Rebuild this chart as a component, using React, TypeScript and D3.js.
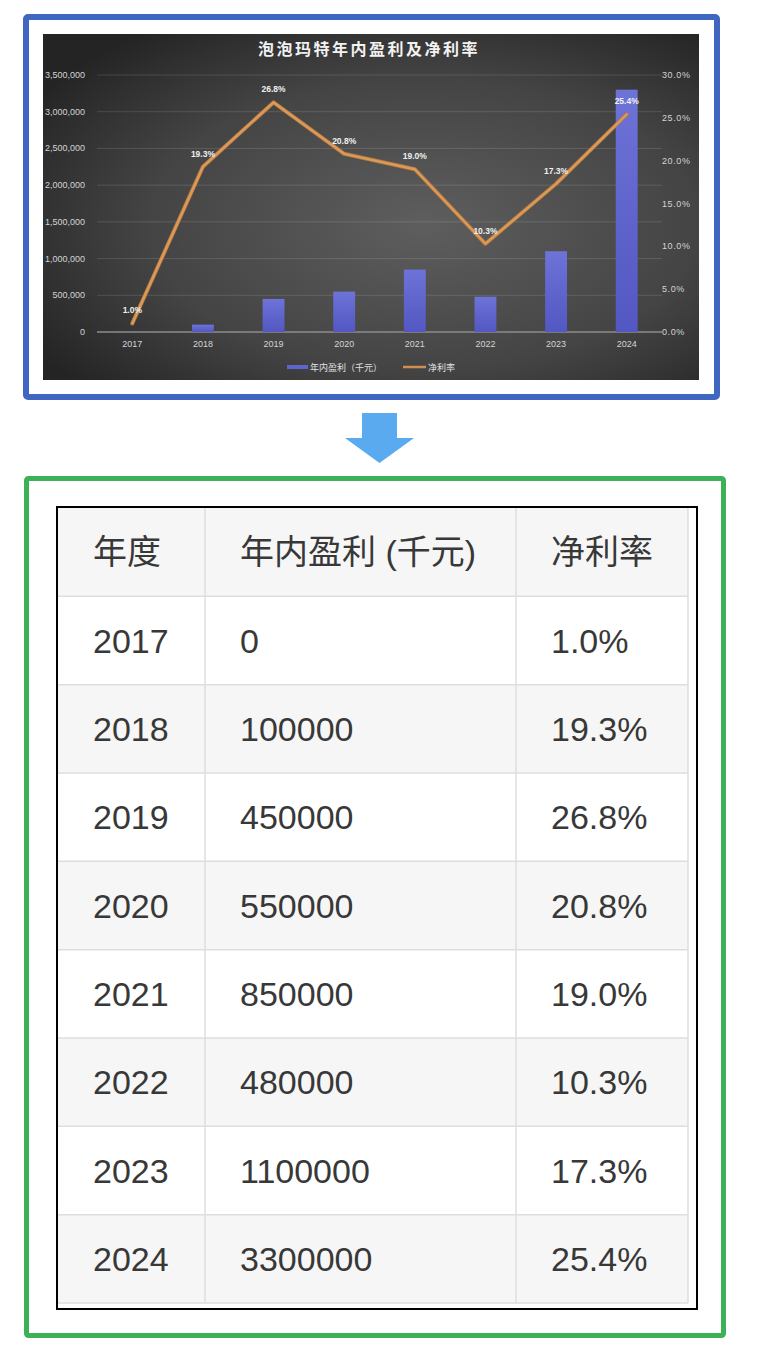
import React from "react";
import * as d3 from "d3";

const years = ["2017", "2018", "2019", "2020", "2021", "2022", "2023", "2024"];
const profit = [0, 100000, 450000, 550000, 850000, 480000, 1100000, 3300000];
const margin = [1.0, 19.3, 26.8, 20.8, 19.0, 10.3, 17.3, 25.4];
const leftTicks = [0, 500000, 1000000, 1500000, 2000000, 2500000, 3000000, 3500000];
const rightTicks = [0, 5, 10, 15, 20, 25, 30];
const title = "泡泡玛特年内盈利及净利率";
const legendBar = "年内盈利（千元）";
const legendLine = "净利率";
const tableHeaders = ["年度", "年内盈利 (千元)", "净利率"];

export default function App() {
  const W = 757, H = 1361;
  // chart scales
  const x = d3.scaleBand<string>().domain(years).range([97, 662]).paddingInner(0.69).paddingOuter(0.345);
  const yL = d3.scaleLinear().domain([0, 3500000]).range([332, 75]);
  const yR = d3.scaleLinear().domain([0, 30]).range([332, 75]);
  const cx = (y: string) => (x(y) as number) + x.bandwidth() / 2;
  const line = d3.line<number>().x((_, i) => cx(years[i])).y((d) => yR(d));
  const fmtL = d3.format(",");
  const fmtR = (v: number) => d3.format(".1f")(v) + "%";

  // table scales
  const rowKeys = ["h", ...years];
  const rows = d3.scaleBand<string>().domain(rowKeys).range([508, 1303]);
  const colEdges = [58, 205, 516, 688];
  const axisFont = "'Liberation Sans', 'Noto Sans CJK SC', sans-serif";
  const cjk = "'Noto Sans CJK SC', sans-serif";

  const tableCell = (r: number) => {
    if (r === 0) return tableHeaders;
    const i = r - 1;
    return [years[i], String(profit[i]), fmtR(margin[i])];
  };

  return (
    <svg width={W} height={H} style={{ position: "absolute", left: 0, top: 0 }} xmlns="http://www.w3.org/2000/svg">
      <defs>
        <radialGradient id="bg" cx="0.58" cy="0.55" r="0.7">
          <stop offset="0" stopColor="#5e5e5e" />
          <stop offset="0.6" stopColor="#444444" />
          <stop offset="1" stopColor="#242424" />
        </radialGradient>
        <linearGradient id="barG" x1="0" y1="0" x2="0" y2="1">
          <stop offset="0" stopColor="#6e73d8" />
          <stop offset="1" stopColor="#5257c2" />
        </linearGradient>
      </defs>
      <rect x={0} y={0} width={W} height={H} fill="#ffffff" />

      {/* Blue frame */}
      <rect x={26} y={17} width={691} height={380} fill="#ffffff" stroke="#3f66c0" strokeWidth={6} rx={2} />
      {/* Chart background */}
      <rect x={43} y={34} width={656} height={346} fill="url(#bg)" />
      <text x={369} y={55} textAnchor="middle" fill="#f2f2f2" fontSize={16} fontWeight="bold" letterSpacing={2.5} fontFamily={cjk}>{title}</text>

      {/* gridlines */}
      {leftTicks.map((t) => (
        <line key={"g" + t} x1={97} x2={662} y1={yL(t)} y2={yL(t)} stroke={t === 0 ? "#8c8c8c" : "rgba(255,255,255,0.13)"} strokeWidth={t === 0 ? 1.5 : 1} />
      ))}
      {leftTicks.map((t) => (
        <text key={"l" + t} x={85} y={yL(t) + 3} textAnchor="end" fill="#d4d4d4" fontSize={9} fontFamily={axisFont}>{fmtL(t)}</text>
      ))}
      {rightTicks.map((t) => (
        <text key={"r" + t} x={662} y={yR(t) + 3} textAnchor="start" fill="#d4d4d4" fontSize={9} letterSpacing={0.6} fontFamily={axisFont}>{fmtR(t)}</text>
      ))}
      {years.map((y) => (
        <text key={"x" + y} x={cx(y)} y={347} textAnchor="middle" fill="#d4d4d4" fontSize={9} fontFamily={axisFont}>{y}</text>
      ))}

      {/* bars */}
      {years.map((y, i) => (
        <rect key={"b" + y} x={x(y)} y={yL(profit[i])} width={x.bandwidth()} height={yL(0) - yL(profit[i])} fill="url(#barG)" />
      ))}
      {/* line */}
      <path d={line(margin) || ""} fill="none" stroke="#b5773f" strokeWidth={4} strokeLinejoin="round" strokeLinecap="round" />
      <path d={line(margin) || ""} fill="none" stroke="#d99a5a" strokeWidth={2.4} strokeLinejoin="round" strokeLinecap="round" />
      {years.map((y, i) => (
        <text key={"d" + y} x={cx(y)} y={yR(margin[i]) - 10} textAnchor="middle" fill="#f0f0f0" fontSize={8.5} fontWeight="bold" fontFamily={axisFont}>{fmtR(margin[i])}</text>
      ))}

      {/* legend */}
      <rect x={287} y={365} width={21} height={4} fill="#5f64cc" />
      <text x={310} y={370.5} fill="#e0e0e0" fontSize={9} fontFamily={cjk}>{legendBar}</text>
      <line x1={403} x2={426} y1={367} y2={367} stroke="#d08f50" strokeWidth={2.5} />
      <text x={428} y={370.5} fill="#e0e0e0" fontSize={9} fontFamily={cjk}>{legendLine}</text>

      {/* Arrow */}
      <polygon points="362,413 397,413 397,438 414,438 379.5,463 345,438 362,438" fill="#59aaee" />

      {/* Green frame */}
      <rect x={26.5} y={478.5} width={697} height={857} fill="#ffffff" stroke="#3db157" strokeWidth={5} rx={2} />

      {/* Table */}
      <rect x={57} y={507} width={640} height={802} fill="#ffffff" stroke="#000000" strokeWidth={2} />
      {rowKeys.map((k, r) => (
        <rect key={"rb" + k} x={colEdges[0]} y={rows(k)} width={colEdges[3] - colEdges[0]} height={rows.bandwidth()} fill={r % 2 === 0 ? "#f6f6f6" : "#ffffff"} />
      ))}
      {rowKeys.map((k) => (
        <line key={"rl" + k} x1={colEdges[0]} x2={colEdges[3]} y1={(rows(k) as number) + rows.bandwidth()} y2={(rows(k) as number) + rows.bandwidth()} stroke="#dedede" strokeWidth={1.5} />
      ))}
      {colEdges.slice(1).map((c) => (
        <line key={"cl" + c} x1={c} x2={c} y1={508} y2={1303} stroke="#dedede" strokeWidth={1.5} />
      ))}
      {rowKeys.map((k, r) =>
        tableCell(r).map((s, c) => (
          <text key={"t" + k + c} x={colEdges[c] + 35} y={(rows(k) as number) + rows.bandwidth() / 2 + 12} fill="#383838" fontSize={34} fontFamily={r === 0 ? "'Liberation Sans', 'Noto Sans CJK SC', sans-serif" : axisFont}>{s}</text>
        ))
      )}
    </svg>
  );
}
